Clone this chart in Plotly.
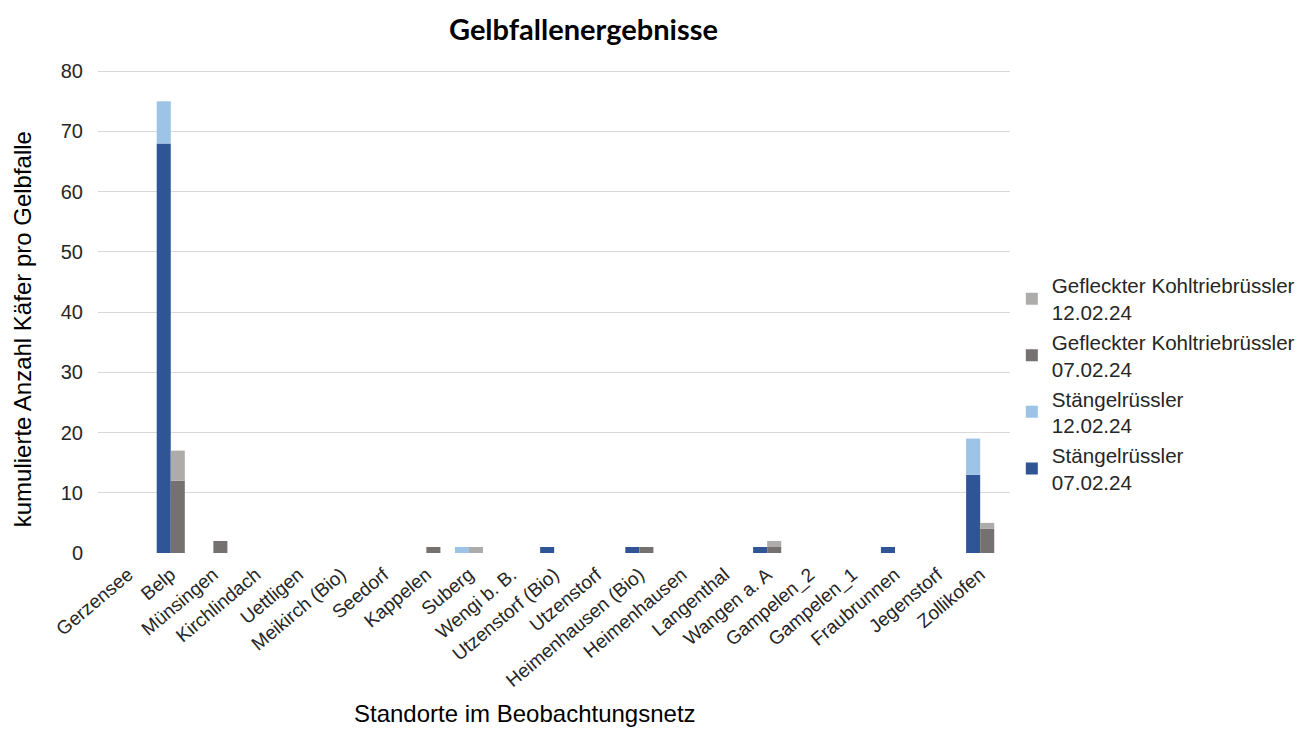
import plotly.graph_objects as go

# Standorte (Kategorien der x-Achse)
standorte = [
    "Gerzensee", "Belp", "Münsingen", "Kirchlindach", "Uettligen",
    "Meikirch (Bio)", "Seedorf", "Kappelen", "Suberg", "Wengi b. B.",
    "Utzenstorf (Bio)", "Utzenstorf", "Heimenhausen (Bio)", "Heimenhausen",
    "Langenthal", "Wangen a. A", "Gampelen_2", "Gampelen_1", "Fraubrunnen",
    "Jegenstorf", "Zollikofen",
]

# Käfer pro Gelbfalle: Stand 07.02.24 und Zuwachs bis 12.02.24
staengel_0702 = [0, 68, 0, 0, 0, 0, 0, 0, 0, 0, 1, 0, 1, 0, 0, 1, 0, 0, 1, 0, 13]
staengel_1202 = [0, 7, 0, 0, 0, 0, 0, 0, 1, 0, 0, 0, 0, 0, 0, 0, 0, 0, 0, 0, 6]
gefleckt_0702 = [0, 12, 2, 0, 0, 0, 0, 1, 0, 0, 0, 0, 1, 0, 0, 1, 0, 0, 0, 0, 4]
gefleckt_1202 = [0, 5, 0, 0, 0, 0, 0, 0, 1, 0, 0, 0, 0, 0, 0, 1, 0, 0, 0, 0, 1]

y_ticks = [0, 10, 20, 30, 40, 50, 60, 70, 80]

FONT = "Liberation Sans, Arial, sans-serif"
BAR_W = 0.33

fig = go.Figure()

def add_stack(name, values, base, color, offset, group):
    fig.add_trace(go.Bar(
        x=standorte, y=values, base=base, name=name,
        marker=dict(color=color, line=dict(width=0)),
        width=BAR_W, offset=offset, legendgroup=group,
    ))

# Stängelrüssler links, Gefleckter Kohltriebrüssler rechts je Standort
add_stack("Stängelrüssler<br>07.02.24", staengel_0702, [0] * len(standorte),
          "#2F5597", -BAR_W, "s07")
add_stack("Stängelrüssler<br>12.02.24", staengel_1202, staengel_0702,
          "#9DC3E6", -BAR_W, "s12")
add_stack("Gefleckter Kohltriebrüssler<br>07.02.24", gefleckt_0702, [0] * len(standorte),
          "#767171", 0, "g07")
add_stack("Gefleckter Kohltriebrüssler<br>12.02.24", gefleckt_1202, gefleckt_0702,
          "#AEABAB", 0, "g12")

fig.update_layout(
    width=1312, height=729,
    margin=dict(l=98, r=299, t=70, b=176),
    paper_bgcolor="white", plot_bgcolor="white",
    barmode="overlay",
    font=dict(family=FONT, color="#262626"),
    showlegend=True,
    legend=dict(
        x=1.002, xanchor="left", y=0.35, yanchor="middle",
        traceorder="reversed", tracegroupgap=12,
        font=dict(family=FONT, size=20.6, color="#262626"),
        itemwidth=30,
    ),
    xaxis=dict(
        type="category", range=[-0.708, 20.70],
        tickangle=-40, tickfont=dict(family=FONT, size=19, color="#262626"),
        showgrid=False, showline=False, ticks="",
        ticklabelstandoff=6,
    ),
    yaxis=dict(
        range=[0, 80.2], tickvals=y_ticks,
        tickfont=dict(family=FONT, size=20, color="#262626"),
        showgrid=True, gridcolor="#D9D9D9", gridwidth=1,
        zeroline=False, showline=False, ticks="",
        ticklabelstandoff=14,
    ),
    annotations=[
        dict(text="<b>Gelbfallenergebnisse</b>", xref="paper", yref="paper",
             x=(585 - 98) / 915, y=1 + (70 - 28) / 483, xanchor="center", yanchor="middle",
             showarrow=False, font=dict(family="Lato, sans-serif", size=29, color="black")),
        dict(text="kumulierte Anzahl Käfer pro Gelbfalle", xref="paper", yref="paper",
             x=-(98 - 23) / 915, y=(553 - 329) / 483, xanchor="center", yanchor="middle",
             textangle=-90, showarrow=False,
             font=dict(family=FONT, size=24, color="black")),
        dict(text="Standorte im Beobachtungsnetz", xref="paper", yref="paper",
             x=(526 - 98) / 915, y=-(713 - 553) / 483, xanchor="center", yanchor="middle",
             showarrow=False, font=dict(family=FONT, size=24, color="black")),
    ],
)

fig.write_html("out.html")
